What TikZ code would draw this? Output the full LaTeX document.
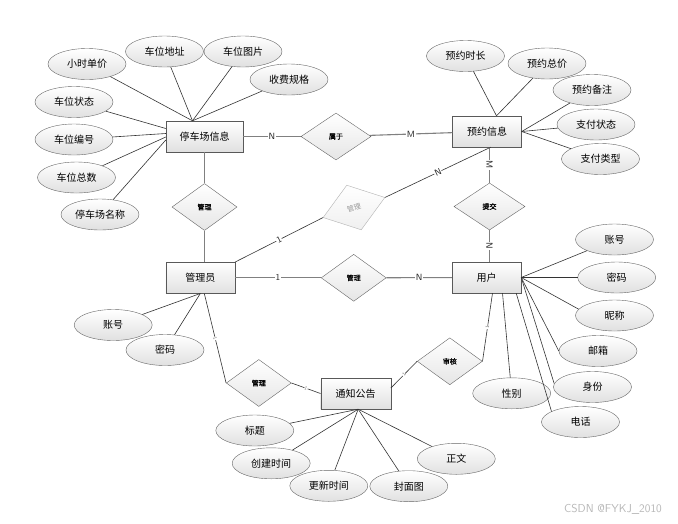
\documentclass[tikz,border=0pt]{standalone}
\usepackage{fontspec}
\newfontfamily\cjk{Noto Sans CJK SC}
\newfontfamily\cjkb[FakeBold=1.2]{Noto Sans CJK SC}
\usetikzlibrary{shapes.geometric}
\begin{document}
\begin{tikzpicture}[x=1pt,y=-1pt,
 ent/.style={rectangle,draw=black!65,top color=white,bottom color=black!12,minimum width=69pt,minimum height=31pt,inner sep=0pt,font=\cjk\fontsize{10}{12}\selectfont},
 att/.style={ellipse,draw=black!60,top color=white,bottom color=black!12,minimum width=78pt,minimum height=31pt,inner sep=0pt,font=\cjk\fontsize{10}{12}\selectfont},
 rel/.style={diamond,draw=black!60,top color=white,bottom color=black!10,minimum width=65pt,minimum height=47pt,inner sep=0pt,font=\cjkb\fontsize{7}{8}\selectfont},
 aline/.style={draw=black!80,line width=0.6pt},
 rline/.style={draw=black!50,line width=1.1pt},
 card/.style={font=\sffamily\fontsize{9}{10}\selectfont,text=black!85,fill=white,inner sep=0.6pt},
 tinylab/.style={font=\sffamily\fontsize{5}{5}\selectfont,text=black!55,fill=white,inner sep=0.3pt,sloped}
]
\useasboundingbox[fill=white] (0,0) rectangle (678,523);

% entities
\node[ent,minimum width=77pt] (tcc) at (204.5,136.5) {停车场信息};
\node[ent] (yyxx) at (487,131.5) {预约信息};
\node[ent] (gly) at (200.3,277.8) {管理员};
\node[ent] (yh) at (486.5,277.5) {用户};
\node[ent,minimum width=70pt] (tz) at (355.7,393.5) {通知公告};

% relationships
\node[rel,minimum width=70pt] (sy) at (336,136.5) {属于};
\node[rel] (gl1) at (204.5,207) {管理};
\node[rel,minimum width=71pt] (tj) at (489.5,206.5) {提交};
\node[rel] (gl2) at (353.7,277.8) {管理};
\node[rel,rotate=18,draw=black!30,bottom color=black!6,text=black!40,font=\cjk\fontsize{7}{8}\selectfont] (gm) at (354,207.5) {管理};
\node[rel] (gl3) at (258.8,383) {管理};
\node[rel] (sh) at (449.8,361.3) {审核};

% attributes of 停车场信息
\node[att] (a1) at (87,64) {小时单价};
\node[att] (a2) at (164.5,51.5) {车位地址};
\node[att] (a3) at (243,51.5) {车位图片};
\node[att] (a4) at (289,79.5) {收费规格};
\node[att] (a5) at (74,102) {车位状态};
\node[att] (a6) at (74,139.5) {车位编号};
\node[att] (a7) at (76.5,177.5) {车位总数};
\node[att] (a8) at (100,214.5) {停车场名称};
% attributes of 预约信息
\node[att] (b1) at (465.5,56) {预约时长};
\node[att] (b2) at (547,63.5) {预约总价};
\node[att] (b3) at (592,90) {预约备注};
\node[att] (b4) at (596,124.5) {支付状态};
\node[att] (b5) at (600.5,159) {支付类型};
% attributes of 用户
\node[att] (c1) at (614.5,239.5) {账号};
\node[att] (c2) at (616.7,277.5) {密码};
\node[att] (c3) at (614.5,315.5) {昵称};
\node[att] (c4) at (598,351) {邮箱};
\node[att] (c5) at (592.5,387) {身份};
\node[att] (c6) at (580.5,422) {电话};
\node[att] (c7) at (511.7,393.3) {性别};
% attributes of 管理员
\node[att] (d1) at (113.2,325) {账号};
\node[att] (d2) at (165,350) {密码};
% attributes of 通知公告
\node[att] (e1) at (254.8,430.5) {标题};
\node[att] (e2) at (271.2,463.3) {创建时间};
\node[att] (e3) at (328.8,485.8) {更新时间};
\node[att] (e4) at (408.8,486.2) {封面图};
\node[att] (e5) at (456.3,458.8) {正文};

% attribute lines
\draw[aline] (a1) -- ([xshift=-12pt]tcc.north);
\draw[aline] (a2) -- ([xshift=-12pt]tcc.north);
\draw[aline] (a3) -- ([xshift=-12pt]tcc.north);
\draw[aline] (a4) -- ([xshift=-12pt]tcc.north);
\draw[aline] (a5) -- ([yshift=8pt]tcc.west);
\draw[aline] (a6) -- ([yshift=3pt]tcc.west);
\draw[aline] (a7) -- ([yshift=-0.5pt]tcc.west);
\draw[aline] (a8) -- ([yshift=-3.5pt]tcc.west);
\draw[aline] (b1) -- ([xshift=9.5pt]yyxx.north);
\draw[aline] (b2) -- ([xshift=9.5pt]yyxx.north);
\draw[aline] (b3) -- (yyxx.east);
\draw[aline] (b4) -- (yyxx.east);
\draw[aline] (b5) -- (yyxx.east);
\draw[aline] (c1) -- (yh.east);
\draw[aline] (c2) -- (yh.east);
\draw[aline] (c3.170) -- (yh.east);
\draw[aline] (c4.west) -- (yh.east);
\draw[aline] (c5.175) -- (yh.east);
\draw[aline] (c6.160) -- ([xshift=-5pt]yh.south east);
\draw[aline] (c7) -- ([xshift=16pt]yh.south);
\draw[aline] (d1) -- (gly.south);
\draw[aline] (d2) -- (gly.south);
\draw[aline] (e1) -- ([xshift=2.5pt]tz.south);
\draw[aline] (e2) -- ([xshift=2.5pt]tz.south);
\draw[aline] (e3) -- ([xshift=2.5pt]tz.south);
\draw[aline] (e4) -- ([xshift=2.5pt]tz.south);
\draw[aline] (e5) -- ([xshift=2.5pt]tz.south);

% relationship lines
\draw[rline] (tcc) -- node[card] {N} (sy);
\draw[rline] (sy) -- node[card] {M} (yyxx);
\draw[rline] ([xshift=2.5pt]yyxx.south) -- node[card,rotate=-90] {M} (tj.north);
\draw[rline] (tj.south) -- node[card,rotate=-90] {N} ([xshift=3pt]yh.north);
\draw[rline] (tcc.south) -- (gl1.north);
\draw[rline] (gl1.south) -- ([xshift=4.2pt]gly.north);
\draw[rline] (gly) -- node[card] {1} (gl2);
\draw[rline] (gl2) -- node[card] {N} (yh);
\draw[aline] (gly.north east) -- node[card,sloped] {1} (gm.west);
\draw[aline] (gm.east) -- node[card,sloped] {N} ([xshift=3.7pt]yyxx.south);
\draw[aline] ([xshift=4pt]gly.south) -- node[tinylab] {1} (gl3.west);
\draw[aline] (gl3.east) -- node[tinylab] {1} (tz.west);
\draw[aline] ([xshift=6pt]yh.south) -- node[tinylab] {1} (sh.east);
\draw[aline] (sh.west) -- node[tinylab] {1} ([yshift=5.5pt]tz.east);

% watermark
\node[font=\sffamily\fontsize{11.5}{13}\selectfont,text=black!28] (wm) at (613,509) {CSDN @FYKJ\_2010};
\end{tikzpicture}
\end{document}
